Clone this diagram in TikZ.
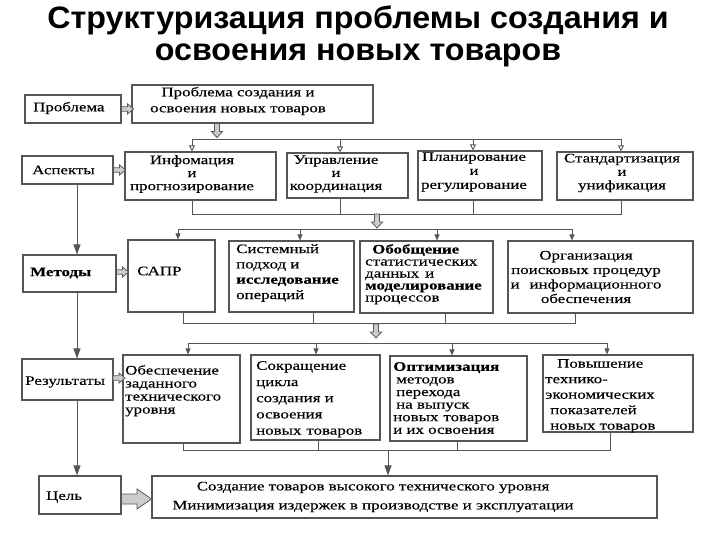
\documentclass[tikz,border=0pt]{standalone}
\usepackage{fontspec}
\setmainfont{Liberation Serif}
\newfontfamily\bxfont[FakeStretch=1.3,FakeBold=0.3]{Liberation Serif}
\newfontfamily\ttlfont[FakeStretch=1.04]{Liberation Sans}
\usetikzlibrary{arrows.meta,fit,calc}
\definecolor{boxc}{HTML}{555555}
\definecolor{linec}{HTML}{555555}
\begin{document}
\begin{tikzpicture}[x=1pt,y=-1pt,
  box/.style={draw=boxc, line width=1.1pt, inner sep=0pt},
  txt/.style={font=\bxfont\fontsize{13}{#1}\selectfont, inner sep=0pt, align=left, text=black},
  txt/.default=14,
  ctxt/.style={txt=#1, align=center},
  ctxt/.default=14,
  ln/.style={draw=linec, line width=0.9pt},
  fa/.style={ln, -{Triangle[length=6pt,width=5pt]}},
  oa/.style={ln, -{Triangle[open,length=6pt,width=6pt]}},
  va/.style={ln, -{Triangle[length=10pt,width=7pt]}},
  blk/.style={draw=gray!70!black, fill=gray!40, line width=0.8pt},
  rblk/.pic={\path[blk] (0,-2.2) -- (6,-2.2) -- (6,-5) -- (12,0) -- (6,5) -- (6,2.2) -- (0,2.2) -- cycle;},
  dblk/.pic={\path[blk] (-2.5,0) -- (-2.5,8) -- (-5.5,8) -- (0,14) -- (5.5,8) -- (2.5,8) -- (2.5,0) -- cycle;}
]
\useasboundingbox[fill=white] (0,0) rectangle (720,540);

% title
\node[font=\ttlfont\bfseries\fontsize{31}{32}\selectfont, anchor=base, inner sep=0pt] (title1) at (358,29) {Структуризация проблемы создания и};
\node[font=\ttlfont\bfseries\fontsize{31}{32}\selectfont, anchor=base, inner sep=0pt] (title2) at (358,61) {освоения новых товаров};

% left column
\node[box, fit={(25,95) (121,123)}] (lprob) {};
\node[txt, anchor=west] (lprobt) at (33,108) {Проблема};
\node[box, fit={(22,156) (113,184)}] (lasp) {};
\node[txt, anchor=west] (laspt) at (32,170) {Аспекты};
\node[box, fit={(23,255) (116,292)}] (lmet) {};
\node[txt, anchor=west] (lmett) at (30,273) {\bfseries Методы};
\node[box, fit={(22,359) (113,400)}] (lres) {};
\node[txt, anchor=west] (lrest) at (25,382) {Результаты};
\node[box, fit={(39,476) (121,514)}] (lgoal) {};
\node[txt, anchor=west] (lgoalt) at (46,497) {Цель};

% problem
\node[box, fit={(132,85) (373,123)}] (ptop) {};
\node[ctxt=16] (ptopt) at (238,101) {Проблема создания и\\освоения новых товаров};

% aspects
\node[box, fit={(125,152) (276,200)}] (a1) {};
\node[ctxt=13] (a1t) at (192,174) {Инфомация\\и\\прогнозирование};
\node[box, fit={(287,153) (408,198)}] (a2) {};
\node[ctxt=13] (a2t) at (336,174) {Управление\\и\\координация};
\node[box, fit={(418,151) (542,200)}] (a3) {};
\node[ctxt=14] (a3t) at (474,172) {Планирование\\и\\регулирование};
\node[box, fit={(557,152) (693,200)}] (a4) {};
\node[ctxt=13.5] (a4t) at (622,173) {Стандартизация\\и\\унификация};

% methods
\node[box, fit={(128,240) (215,312)}] (m1) {};
\node[txt, anchor=west] (m1t) at (137,271) {САПР};
\node[box, fit={(229,241) (354,312)}] (m2) {};
\node[txt=15.3, anchor=north west] (m2t) at (236,244) {Системный\\подход и\\\bfseries исследование\\операций};
\node[box, fit={(360,241) (493,313)}] (m3) {};
\node[txt=12, anchor=north west] (m3t) at (365,244) {\hspace*{7pt}\bfseries Обобщение\\статистических\\данных\hspace{6pt}и\\\bfseries моделирование\\процессов};
\node[box, fit={(508,241) (693,313)}] (m4) {};
\node[ctxt=14.5] (m4t) at (586,277) {Организация\\поисковых процедур\\и\hspace{10pt}информационного\\обеспечения};

% results
\node[box, fit={(123,355) (240,443)}] (r1) {};
\node[txt=13, anchor=north west] (r1t) at (125,365) {Обеспечение\\заданного\\технического\\уровня};
\node[box, fit={(251,355) (380,440)}] (r2) {};
\node[txt=16.2, anchor=north west] (r2t) at (256,361) {Сокращение\\цикла\\создания и\\освоения\\новых\hspace{5pt}товаров};
\node[box, fit={(390,356) (527,441)}] (r3) {};
\node[txt=12.6, anchor=north west] (r3t) at (393,362) {\bfseries Оптимизация\\\hspace*{3pt}методов\\\hspace*{3pt}перехода\\\hspace*{3pt}на выпуск\\новых\hspace{5pt}товаров\\и их освоения};
\node[box, fit={(543,355) (693,432)}] (r4) {};
\node[txt=15.5, anchor=north west] (r4t) at (545,359) {\hspace*{12pt}Повышение\\технико-\\экономических\\\hspace*{5pt}показателей\\\hspace*{5pt}новых товаров};

% goal
\node[box, fit={(152,476) (657,518)}] (goal) {};
\node[ctxt=19] (goalt) at (373,497) {Создание товаров высокого технического уровня\\Минимизация издержек в производстве и эксплуатации};

% block arrows (left labels -> rows)
\pic at (lprob.east |- 0,109) {rblk};
\pic at (lasp.east |- 0,170) {rblk};
\pic at (lmet.east |- 0,272) {rblk};
\pic at (113,378) {rblk};
\path[blk] (lgoal.east |- 0,494) -- (137,494) -- (137,489) -- (goal.west |- 0,499) -- (137,509) -- (137,504) -- (lgoal.east |- 0,504) -- cycle;

% left vertical flow
\draw[va] (lasp.south -| 77,0) -- (lmet.north -| 77,0);
\draw[va] (lmet.south -| 77,0) -- (lres.north -| 77,0);
\draw[va] (lres.south -| 77,0) -- (lgoal.north -| 77,0);

% problem -> aspects
\pic at (ptop.south -| 217,0) {dblk};
\coordinate (b1l) at (192,139);
\coordinate (b1r) at (621,139);
\draw[ln] (b1l) -- (b1r);
\draw[oa] (b1l) -- (a1.north -| b1l);
\draw[oa] (340,139) -- (a2.north -| 340,0);
\draw[oa] (473,139) -- (a3.north -| 473,0);
\draw[oa] (b1r) -- (a4.north -| b1r);

% aspects -> methods
\draw[ln] (a1.south -| 192,0) -- (192,214) -- (621,214) -- (a4.south -| 621,0);
\draw[ln] (a2.south -| 340,0) -- (340,214);
\draw[ln] (a3.south -| 473,0) -- (473,214);
\pic at (377,214) {dblk};
\coordinate (b2l) at (178,229);
\coordinate (b2r) at (572,229);
\draw[ln] (b2l) -- (b2r);
\draw[fa] (b2l) -- (m1.north -| b2l);
\draw[fa] (300,229) -- (m2.north -| 300,0);
\draw[fa] (437,229) -- (m3.north -| 437,0);
\draw[fa] (b2r) -- (m4.north -| b2r);

% methods -> results
\draw[ln] (m1.south -| 183,0) -- (183,323) -- (575,323) -- (m4.south -| 575,0);
\draw[ln] (m2.south -| 313,0) -- (313,323);
\draw[ln] (m3.south -| 445,0) -- (445,323);
\pic at (376,324) {dblk};
\coordinate (b3l) at (188,343);
\coordinate (b3r) at (607,343);
\draw[ln] (b3l) -- (b3r);
\draw[fa] (b3l) -- (r1.north -| b3l);
\draw[fa] (316,343) -- (r2.north -| 316,0);
\draw[fa] (452,343) -- (r3.north -| 452,0);
\draw[fa] (b3r) -- (r4.north -| b3r);

% results -> goal
\draw[ln] (r1.south -| 183,0) -- (183,450) -- (610,450) -- (r4.south -| 610,0);
\draw[ln] (r2.south -| 318,0) -- (318,450);
\draw[ln] (r3.south -| 457,0) -- (457,450);
\draw[va] (388,450) -- (goal.north -| 388,0);
\end{tikzpicture}
\end{document}
